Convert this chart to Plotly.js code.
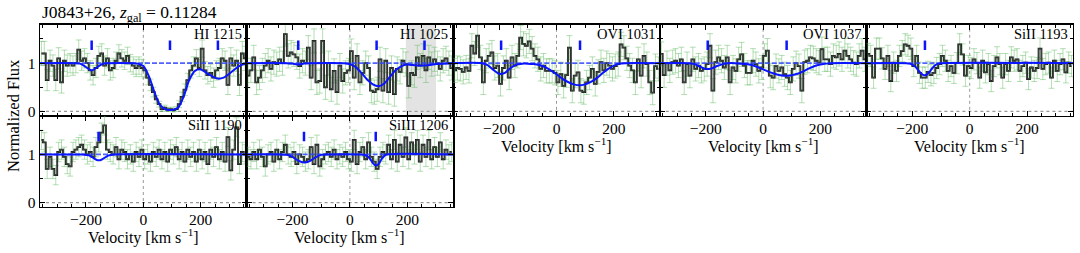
<!DOCTYPE html>
<html>
<head>
<meta charset="utf-8">
<script src="https://cdn.plot.ly/plotly-3.0.1.min.js"></script>
<style>html,body{margin:0;padding:0;background:#fff;}#chart{width:1080px;height:253px;}</style>
</head>
<body>
<div id="chart"></div>
<script>
// ---------------- DATA ----------------
const VEL = [-355,-345,-335,-325,-315,-305,-295,-285,-275,-265,-255,-245,-235,-225,-215,-205,-195,-185,-175,-165,-155,-145,-135,-125,-115,-105,-95,-85,-75,-65,-55,-45,-35,-25,-15,-5,
             5,15,25,35,45,55,65,75,85,95,105,115,125,135,145,155,165,175,185,195,205,215,225,235,245,255,265,275,285,295,305,315,325,335,345,355];

const HI1215_FLUX = [1.2,1.2,0.65,1.05,0.95,0.65,1.1,0.6,1.05,0.95,
  1.0,0.95,1.0,1.28,1.05,1.1,1.0,0.85,0.75,0.9,
  1.15,1.2,0.95,1.1,0.85,0.9,1.05,1.2,1.1,1.05,
  1.15,1.0,0.95,0.9,0.95,0.9,
  0.85,0.7,0.55,0.4,0.25,0.15,0.05,0.08,0.04,0.05,
  0.03,0.05,0.15,0.3,0.45,0.65,0.85,0.95,1.1,0.9,
  1.3,0.85,0.75,0.8,0.7,0.85,0.9,1.1,1.05,0.55,
  1.1,0.95,1.05,0.55,1.2,1.1];
const HI1215_ERR = [0.25,0.25,0.22,0.22,0.22,0.22,0.22,0.22,0.22,0.22,
  0.2,0.2,0.2,0.2,0.2,0.2,0.2,0.2,0.2,0.2,
  0.2,0.2,0.2,0.2,0.2,0.2,0.18,0.18,0.18,0.18,
  0.18,0.18,0.18,0.18,0.18,0.18,
  0.16,0.15,0.12,0.1,0.08,0.06,0.05,0.05,0.04,0.04,
  0.04,0.05,0.07,0.1,0.12,0.14,0.16,0.18,0.18,0.18,
  0.18,0.18,0.18,0.18,0.2,0.2,0.2,0.2,0.2,0.2,
  0.22,0.22,0.22,0.22,0.25,0.25];
const HI1215_MODEL_V = [-360,-240,-220,-200,-180,-160,-140,-120,-40,-20,0,20,40,60,80,100,120,140,160,180,200,220,240,260,280,300,320,340,360];
const HI1215_MODEL_F = [1,1,0.99,0.92,0.85,0.92,0.99,1,1,0.99,0.94,0.72,0.38,0.12,0.04,0.03,0.07,0.3,0.65,0.84,0.87,0.8,0.73,0.68,0.7,0.78,0.88,0.96,0.99];
const HI1215_COMPS = [-180,93,260];

const HI1025_FLUX = [0.74,0.85,1.12,0.6,0.7,0.85,0.95,1.05,0.88,1.02,
  0.98,1.08,1.0,1.6,1.15,1.22,1.18,1.12,0.94,1.05,
  1.0,1.32,0.7,1.46,0.6,0.63,1.46,0.5,1.0,0.46,
  0.84,0.4,0.95,0.63,0.8,0.85,
  1.25,0.7,1.15,0.6,0.8,1.0,0.9,0.43,0.4,0.46,
  1.08,0.43,1.05,0.4,0.9,0.36,0.88,0.82,1.05,0.98,
  0.53,0.8,0.75,1.12,0.95,1.15,0.85,1.12,0.98,1.08,
  1.0,0.88,1.05,1.1,1.0,0.9];
const HI1025_ERR = 0.25;
const HI1025_MODEL_V = [-360,-220,-200,-180,-160,-140,-20,0,20,40,60,80,100,120,140,160,180,200,220,240,260,280,300,320,360];
const HI1025_MODEL_F = [1,1,0.99,0.97,0.99,1,1,0.98,0.92,0.8,0.66,0.56,0.52,0.58,0.72,0.86,0.94,0.97,0.96,0.95,0.95,0.96,0.98,0.99,1];
const HI1025_COMPS = [-180,93,260];
const HI1025_MASK = [195,300];

const OVI1031_FLUX = [0.85,0.9,0.88,0.82,0.91,0.84,1.36,1.2,1.57,1.12,
  0.6,1.05,1.15,1.22,0.9,0.95,0.57,0.9,1.05,0.7,
  1.12,0.95,1.15,1.53,1.4,1.36,1.45,1.3,1.15,1.08,
  0.88,0.95,0.84,0.84,0.84,0.8,
  0.6,0.77,0.53,0.75,1.32,0.43,0.74,0.81,0.43,0.4,
  0.6,0.7,0.88,0.57,0.82,1.02,0.85,1.0,0.95,0.88,
  0.94,0.98,1.39,1.32,1.1,0.95,0.85,0.6,1.08,0.74,
  1.15,0.98,0.6,0.39,0.94,0.88];
const OVI1031_ERR = 0.25;
const OVI1031_MODEL_V = [-360,-260,-240,-220,-200,-180,-160,-140,-120,-100,-80,-60,-40,-20,0,20,40,60,80,100,120,140,160,180,200,220,240,360];
const OVI1031_MODEL_F = [1,1,0.96,0.86,0.78,0.8,0.9,0.97,0.99,0.99,0.98,0.96,0.92,0.85,0.77,0.68,0.61,0.56,0.54,0.56,0.61,0.69,0.79,0.88,0.95,0.99,1,1];
const OVI1031_COMPS = [-193,82];

const OVI1037_FLUX = [1.19,0.75,1.0,0.85,1.02,1.05,0.95,1.08,0.6,0.98,
  0.74,1.08,0.88,0.95,0.84,0.88,0.98,1.36,0.43,1.02,
  1.12,1.05,0.91,1.12,0.6,0.91,0.84,1.08,1.18,0.95,
  0.8,0.8,1.05,0.98,0.84,0.91,
  1.15,1.26,0.74,0.7,0.94,0.84,0.91,0.77,0.7,0.6,
  0.88,1.0,0.94,0.43,1.02,1.05,1.12,1.1,1.05,1.01,
  1.29,1.08,1.08,0.98,1.15,1.12,1.19,1.08,1.26,1.15,
  1.08,1.01,0.98,1.15,1.26,1.08];
const OVI1037_ERR = 0.25;
const OVI1037_MODEL_V = [-360,-260,-240,-220,-200,-180,-160,-140,-120,-100,-80,-60,-40,-20,0,20,40,60,80,100,120,140,160,180,200,220,240,360];
const OVI1037_MODEL_F = [1,1,0.98,0.93,0.88,0.89,0.94,0.98,1,1,0.99,0.98,0.96,0.92,0.87,0.82,0.78,0.75,0.74,0.75,0.78,0.83,0.89,0.94,0.97,0.99,1,1];
const OVI1037_COMPS = [-193,82];

const SIII1193_FLUX = [1.19,1.15,0.7,1.3,1.3,1.1,0.88,1.15,0.63,1.01,
  0.84,1.15,1.25,1.39,1.36,1.3,0.94,1.15,0.8,0.7,
  0.7,0.82,0.75,0.8,0.9,0.98,1.15,1.05,0.84,0.94,
  0.8,1.0,1.39,1.18,0.74,0.94,
  0.9,1.08,1.0,0.7,1.05,0.81,0.98,0.63,0.94,1.12,
  0.98,0.7,0.98,0.84,1.12,1.05,1.08,0.84,0.94,1.01,
  0.67,0.91,0.84,0.9,1.3,0.88,0.98,1.01,0.7,1.05,
  0.84,0.98,1.08,0.81,1.01,0.94];
const SIII1193_ERR = 0.22;
const SIII1193_MODEL_V = [-360,-220,-210,-200,-190,-180,-170,-160,-150,-140,-130,-120,-110,-100,360];
const SIII1193_MODEL_F = [1,1,0.99,0.97,0.93,0.86,0.79,0.75,0.76,0.82,0.9,0.96,0.99,1,1];
const SIII1193_COMPS = [-156];

const SIII1190_FLUX = [1.3,1.25,0.7,0.95,0.7,0.57,1.05,1.1,0.95,0.8,
  0.75,1.05,1.1,1.15,1.2,1.1,1.0,1.05,0.95,1.15,
  1.25,1.45,1.6,1.1,1.05,1.0,1.15,0.9,1.1,1.05,
  0.9,1.0,0.85,1.05,0.95,1.1,
  0.9,1.0,0.85,1.05,0.95,1.1,0.9,1.05,0.85,1.1,
  1.0,1.15,0.9,1.05,0.85,1.1,0.95,1.05,0.85,1.1,
  0.9,1.05,0.8,1.1,0.95,1.15,0.9,1.05,0.85,1.36,
  0.67,1.1,1.56,0.8,1.05,1.0];
const SIII1190_ERR = 0.2;
const SIII1190_MODEL_V = [-360,-220,-210,-200,-190,-180,-170,-160,-150,-140,-130,-120,-110,-100,360];
const SIII1190_MODEL_F = [1,1,1,0.99,0.98,0.95,0.91,0.88,0.88,0.91,0.95,0.98,0.99,1,1];
const SIII1190_COMPS = [-156];

const SIII1206_FLUX = [0.95,0.9,1.05,0.9,1.1,0.95,0.75,1.0,1.05,0.85,
  1.1,0.9,1.05,1.2,1.0,0.95,1.05,0.8,1.0,0.95,
  0.85,0.9,1.15,0.8,1.2,0.75,0.9,1.0,1.05,0.95,
  1.1,0.9,1.0,0.95,1.05,0.9,
  0.85,1.3,0.8,1.05,1.15,0.9,1.25,0.95,0.85,0.7,
  0.95,1.05,1.0,1.2,0.9,1.3,0.85,1.2,0.95,1.35,
  0.9,1.25,1.0,1.3,0.85,1.2,0.95,1.3,0.9,1.15,
  0.95,1.25,0.9,1.1,1.0,1.05];
const SIII1206_ERR = 0.2;
const SIII1206_MODEL_V = [-360,-240,-220,-200,-180,-160,-140,-120,-100,-80,40,50,60,70,80,90,100,110,120,130,360];
const SIII1206_MODEL_F = [1,1,0.99,0.95,0.87,0.83,0.86,0.94,0.99,1,1,0.99,0.97,0.91,0.82,0.77,0.8,0.9,0.97,1,1];
const SIII1206_COMPS = [-160,90];

const PANEL_LABELS = ['HI 1215','HI 1025','OVI 1031','OVI 1037','SiII 1193','SiII 1190','SiIII 1206'];
const X_TICKS = [-200,0,200];
const Y_TICKS = [0,1];

// --------------- LAYOUT / DRAW ---------------
const W = 1080, H = 253;
const FONT = 'Liberation Serif';
const colLeft = [40, 246.6, 453.2, 659.8, 866.4];
const colW = 206.6;
const rowTop = [24.5, 115.8];
const rowBot = [115.8, 207];

const panels = [
  {label:PANEL_LABELS[0], flux:HI1215_FLUX, err:HI1215_ERR, mv:HI1215_MODEL_V, mf:HI1215_MODEL_F, comps:HI1215_COMPS, col:0,row:0, xlab:false},
  {label:PANEL_LABELS[1], flux:HI1025_FLUX, err:HI1025_ERR, mv:HI1025_MODEL_V, mf:HI1025_MODEL_F, comps:HI1025_COMPS, col:1,row:0, xlab:false, mask:HI1025_MASK},
  {label:PANEL_LABELS[2], flux:OVI1031_FLUX, err:OVI1031_ERR, mv:OVI1031_MODEL_V, mf:OVI1031_MODEL_F, comps:OVI1031_COMPS, col:2,row:0, xlab:true},
  {label:PANEL_LABELS[3], flux:OVI1037_FLUX, err:OVI1037_ERR, mv:OVI1037_MODEL_V, mf:OVI1037_MODEL_F, comps:OVI1037_COMPS, col:3,row:0, xlab:true},
  {label:PANEL_LABELS[4], flux:SIII1193_FLUX, err:SIII1193_ERR, mv:SIII1193_MODEL_V, mf:SIII1193_MODEL_F, comps:SIII1193_COMPS, col:4,row:0, xlab:true},
  {label:PANEL_LABELS[5], flux:SIII1190_FLUX, err:SIII1190_ERR, mv:SIII1190_MODEL_V, mf:SIII1190_MODEL_F, comps:SIII1190_COMPS, col:0,row:1, xlab:true},
  {label:PANEL_LABELS[6], flux:SIII1206_FLUX, err:SIII1206_ERR, mv:SIII1206_MODEL_V, mf:SIII1206_MODEL_F, comps:SIII1206_COMPS, col:1,row:1, xlab:true}
];

const traces = [];
const shapes = [];
const annotations = [];
const layout = {
  width: W, height: H,
  margin: {l:0, r:0, t:0, b:0},
  paper_bgcolor: '#fff', plot_bgcolor: 'rgba(0,0,0,0)',
  showlegend: false,
  font: {family: FONT, size: 15, color: '#000'}
};

panels.forEach((p, i) => {
  const n = i + 1;
  const xa = 'x' + n, ya = 'y' + n;
  const xk = 'xaxis' + n, yk = 'yaxis' + n;
  const l = colLeft[p.col], t = rowTop[p.row], b = rowBot[p.row];
  layout[xk] = {
    domain: [l / W, (l + colW) / W], anchor: ya,
    range: [-360, 360], showgrid: false, zeroline: false,
    showline: true, linecolor: '#000', linewidth: 1.3, mirror: 'allticks',
    ticks: 'inside', ticklen: 5, tickwidth: 1, tickcolor: '#000',
    tickmode: 'array', tickvals: X_TICKS, ticklabelstandoff: -2,
    showticklabels: p.xlab, tickfont: {family: FONT, size: 15.5, color: '#000'},
    minor: {dtick: 50, tick0: 0, ticks: 'inside', ticklen: 3, tickcolor: '#000', showgrid: false}
  };
  layout[yk] = {
    domain: [1 - b / H, 1 - t / H], anchor: xa,
    range: [-0.09, 1.8], showgrid: false, zeroline: false,
    showline: true, linecolor: '#000', linewidth: 1.3, mirror: 'allticks',
    ticks: 'inside', ticklen: 5, tickwidth: 1, tickcolor: '#000',
    tickmode: 'array', tickvals: Y_TICKS,
    showticklabels: p.col === 0, tickfont: {family: FONT, size: 15.5, color: '#000'},
    minor: {dtick: 0.5, tick0: 0, ticks: 'inside', ticklen: 3, tickcolor: '#000', showgrid: false}
  };

  if (p.mask) {
    shapes.push({type:'rect', xref: xa, yref: ya + ' domain', x0: p.mask[0], x1: p.mask[1], y0: 0, y1: 1,
      fillcolor: '#e3e3e3', line: {width: 0}, layer: 'below'});
  }
  shapes.push({type:'line', xref: xa, yref: ya + ' domain', x0: 0, x1: 0, y0: 0, y1: 1,
    line: {color: '#999', width: 1, dash: 'dot'}, layer: 'below'});
  shapes.push({type:'line', xref: xa + ' domain', yref: ya, x0: 0, x1: 1, y0: 0, y1: 0,
    line: {color: '#999', width: 1.2, dash: 'dot'}, layer: 'below'});

  const errObj = Array.isArray(p.err) ? {type:'data', array: p.err} : {type:'constant', value: p.err};
  traces.push({x: VEL, y: p.flux, xaxis: xa, yaxis: ya, type: 'scatter', mode: 'markers',
    marker: {size: 1, color: 'rgba(0,0,0,0)'}, hoverinfo: 'skip',
    error_y: Object.assign({visible: true, color: 'rgba(90,185,90,0.45)', thickness: 1, width: 3}, errObj)});
  traces.push({x: VEL, y: p.flux, xaxis: xa, yaxis: ya, type: 'scatter', mode: 'lines',
    line: {color: '#111', width: 1.8, shape: 'hvh'}, hoverinfo: 'skip'});
  traces.push({x: VEL, y: p.flux, xaxis: xa, yaxis: ya, type: 'scatter', mode: 'lines',
    line: {color: '#6f7d72', width: 0.5, shape: 'hvh'}, hoverinfo: 'skip'});
  traces.push({x: [-360, 360], y: [1, 1], xaxis: xa, yaxis: ya, type: 'scatter', mode: 'lines',
    line: {color: 'rgba(50,70,255,0.85)', width: 1.6, dash: '5px,2px'}, hoverinfo: 'skip'});
  traces.push({x: p.mv, y: p.mf, xaxis: xa, yaxis: ya, type: 'scatter', mode: 'lines',
    line: {color: '#0a14ff', width: 2, shape: 'spline', smoothing: 0.8}, hoverinfo: 'skip'});
  const cx = [], cy = [];
  p.comps.forEach(v => { cx.push(v, v, null); cy.push(1.27, 1.47, null); });
  traces.push({x: cx, y: cy, xaxis: xa, yaxis: ya, type: 'scatter', mode: 'lines',
    line: {color: '#0a14ff', width: 2.5}, hoverinfo: 'skip'});

  annotations.push({xref: 'paper', yref: 'paper', x: (l + colW - 3) / W, y: 1 - (t + 9.5) / H,
    xanchor: 'right', yanchor: 'middle', showarrow: false, text: p.label,
    font: {family: FONT, size: 14.5, color: '#000'}});
  if (p.xlab) {
    annotations.push({xref: 'paper', yref: 'paper', x: (l + colW / 2) / W, y: 1 - (b + 29.5) / H,
      xanchor: 'center', yanchor: 'middle', showarrow: false,
      text: 'Velocity [km s<sup>\u22121</sup>]', font: {family: FONT, size: 16, color: '#000'}});
  }
});

annotations.push({xref: 'paper', yref: 'paper', x: 40 / W, y: 1 - 13.5 / H, xanchor: 'left', yanchor: 'middle',
  showarrow: false, text: 'J0843+26, <i>z</i><sub>gal</sub> = 0.11284', font: {family: FONT, size: 17.5, color: '#000'}});
annotations.push({xref: 'paper', yref: 'paper', x: 13 / W, y: 1 - 116 / H, xanchor: 'center', yanchor: 'middle',
  showarrow: false, textangle: -90, text: 'Normalized Flux', font: {family: FONT, size: 16.5, color: '#000'}});

layout.shapes = shapes;
layout.annotations = annotations;

Plotly.newPlot('chart', traces, layout, {staticPlot: true, displayModeBar: false});
</script>
</body>
</html>
